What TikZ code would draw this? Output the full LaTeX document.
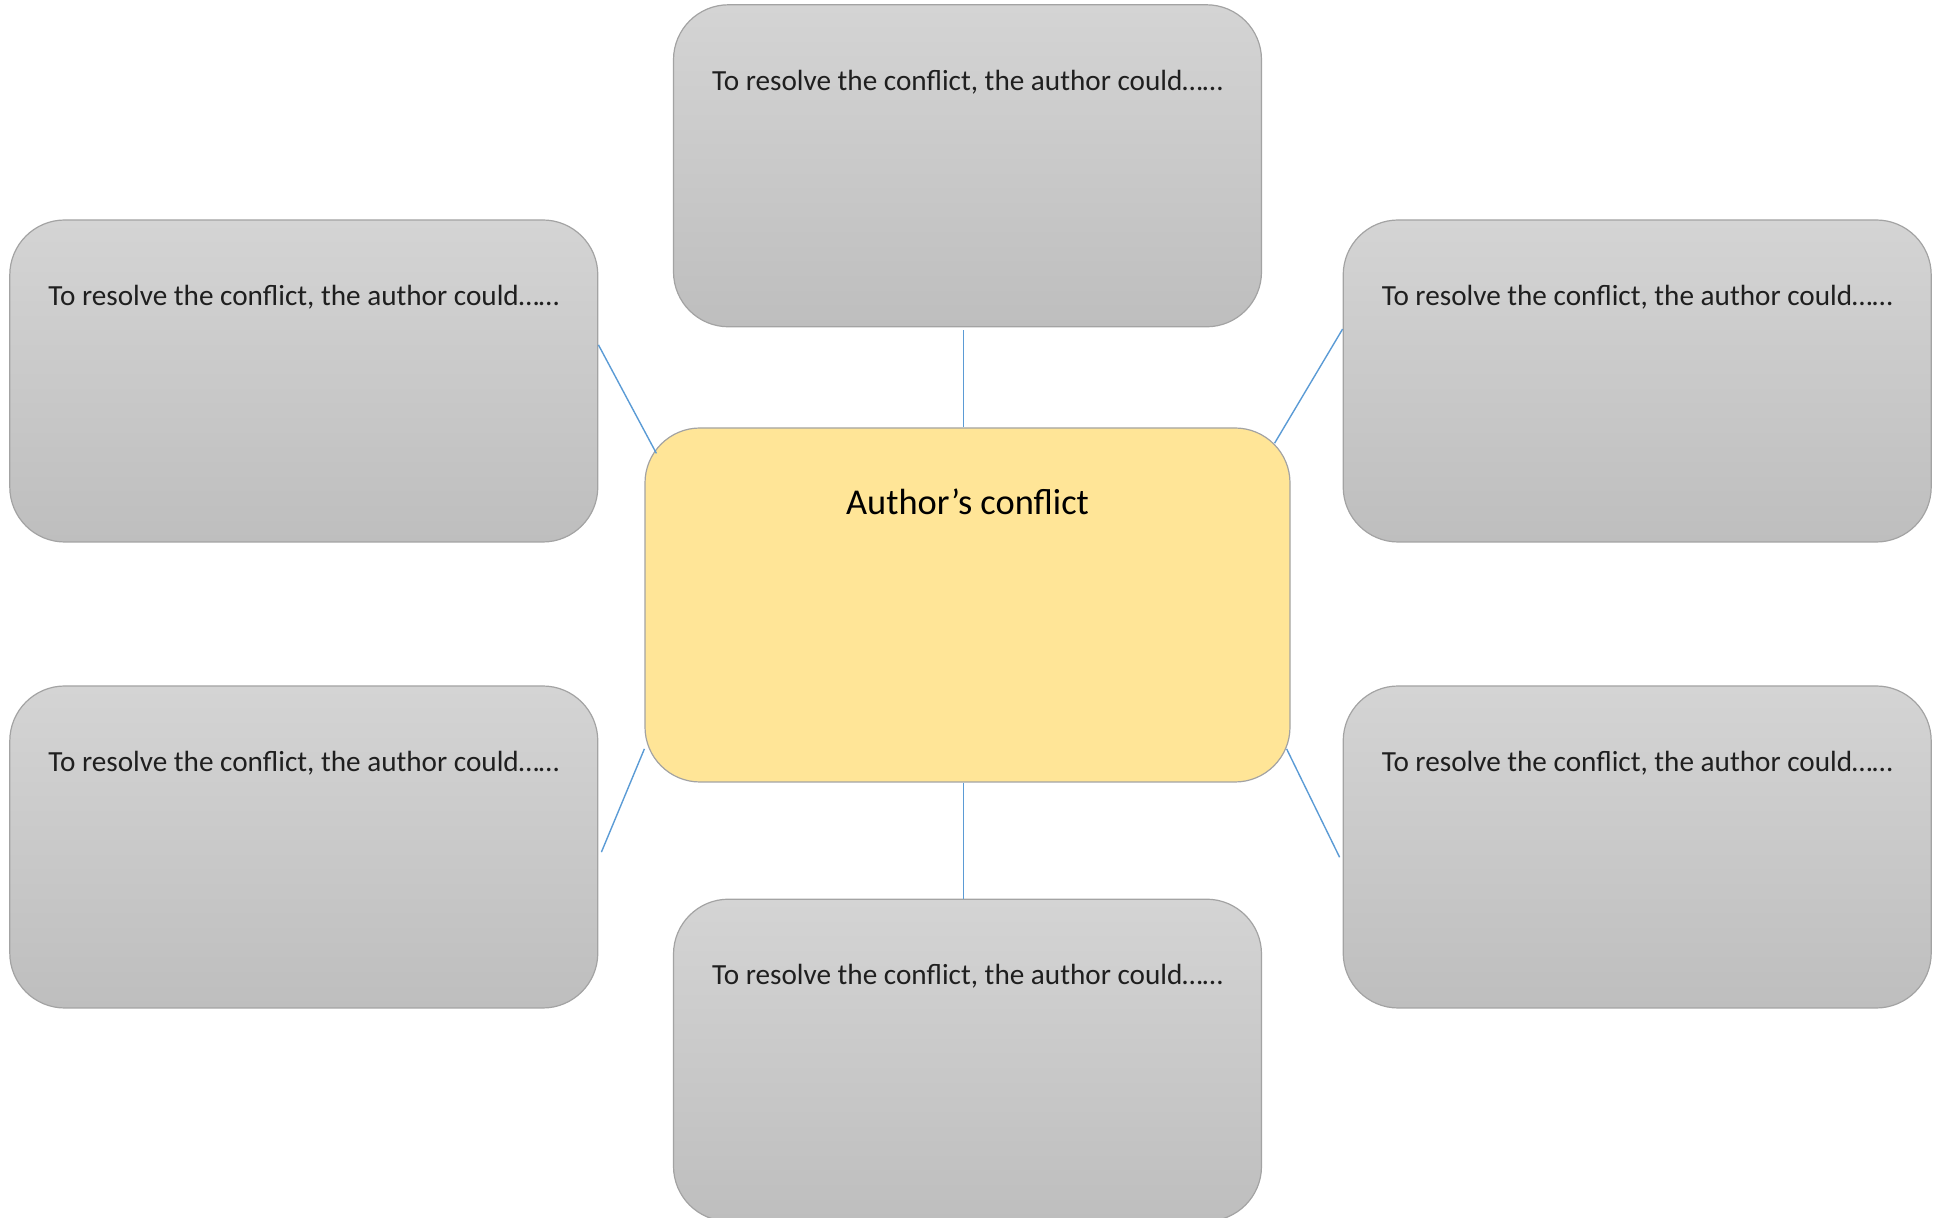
\documentclass[tikz,border=0pt]{standalone}
\usepackage{fontspec}
\setmainfont{Carlito}
\usepackage{xcolor}
\usepackage{tikz}
\usetikzlibrary{positioning}
\definecolor{boxtop}{HTML}{D4D4D4}
\definecolor{boxbot}{HTML}{BEBEBE}
\definecolor{boxline}{HTML}{A3A3A3}
\definecolor{hubfill}{HTML}{FFE597}
\definecolor{linkblue}{HTML}{5B9BD5}
\newcommand{\resolvetext}{To resolve the conflict, the author could\ldots\ldots}

\begin{document}
\begin{tikzpicture}[x=1pt,y=1pt,
  idea/.style={draw=boxline,line width=1.2pt,rounded corners=55pt,top color=boxtop,bottom color=boxbot,
    minimum width=588pt,inner sep=0pt,text height=85.5pt,text depth=236.5pt,font=\fontsize{29.2}{35}\selectfont,text=black!88},
  hub/.style={draw=boxline,line width=1.2pt,rounded corners=55pt,fill=hubfill,
    minimum width=645pt,inner sep=0pt,text height=86.5pt,text depth=267.5pt,font=\fontsize{36.4}{43}\selectfont},
  link/.style={draw=linkblue,line width=1.4pt}]
  \useasboundingbox (0,0) rectangle (1939,1218);
  \node[hub] (conflict) at (967.5,613) {Author’s conflict};
  \node[idea,above=100pt of conflict] (restop) {\resolvetext};
  \node[idea,below=116pt of conflict] (resbot) {\resolvetext};
  \node[idea,left=46pt of conflict,yshift=224pt] (resul) {\resolvetext};
  \node[idea,left=46pt of conflict,yshift=-242pt] (resll) {\resolvetext};
  \node[idea,right=52pt of conflict,yshift=224pt] (resur) {\resolvetext};
  \node[idea,right=52pt of conflict,yshift=-242pt] (reslr) {\resolvetext};
  \draw[link] ([shift={(-4pt,-3pt)}]restop.south)--([xshift=-4pt]conflict.north);
  \draw[link] ([xshift=-4pt]conflict.south)--([xshift=-4pt]resbot.north);
  \draw[link] (resul.7)--([shift={(12pt,-6pt)}]conflict.154);
  \draw[link] (resur.170)--([shift={(-16pt,-10pt)}]conflict.28);
  \draw[link] ([xshift=3pt]resll.-1)--(conflict.204);
  \draw[link] ([xshift=-3pt]reslr.182)--([xshift=-4pt]conflict.336);
\end{tikzpicture}
\end{document}
